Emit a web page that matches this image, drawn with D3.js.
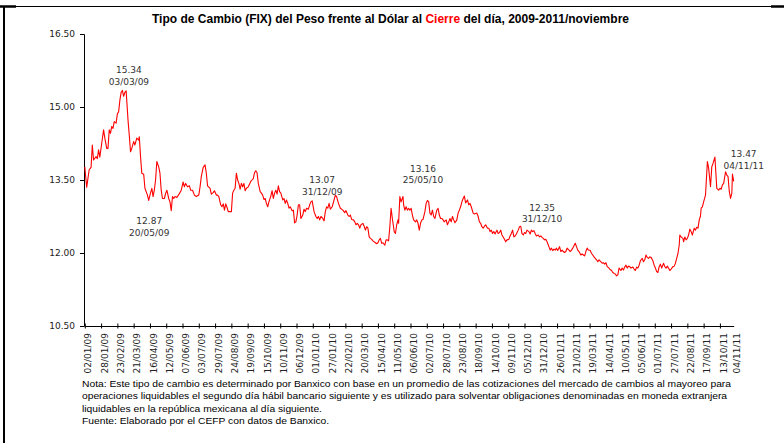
<!DOCTYPE html>
<html>
<head>
<meta charset="utf-8">
<script src="https://cdn.jsdelivr.net/npm/d3@7"></script>
<style>
  body { margin: 0; background: #fff; }
  svg { display: block; }
</style>
</head>
<body>
<div id="chart"></div>
<script>
// fechas (dias del FIX) y tipo de cambio
var fechas = ["2009-01-02","2009-01-05","2009-01-09","2009-01-12","2009-01-14","2009-01-16","2009-01-20","2009-01-22","2009-01-24","2009-01-26","2009-01-29",
"2009-02-01","2009-02-03","2009-02-06","2009-02-08","2009-02-10","2009-02-12","2009-02-14","2009-02-16","2009-02-18","2009-02-21","2009-02-23","2009-02-25","2009-02-27",
"2009-03-01","2009-03-03","2009-03-05","2009-03-07","2009-03-09","2009-03-12","2009-03-14","2009-03-16","2009-03-18","2009-03-21","2009-03-23","2009-03-26","2009-03-29","2009-03-30",
"2009-04-01","2009-04-03","2009-04-06","2009-04-08","2009-04-12","2009-04-14","2009-04-16","2009-04-19","2009-04-21","2009-04-23","2009-04-25","2009-04-27","2009-04-30",
"2009-05-02","2009-05-04","2009-05-06","2009-05-09","2009-05-11","2009-05-13","2009-05-16","2009-05-18","2009-05-20","2009-05-22","2009-05-24","2009-05-26","2009-05-29",
"2009-06-02","2009-06-05","2009-06-08","2009-06-10","2009-06-12","2009-06-15","2009-06-18","2009-06-20","2009-06-23","2009-06-26","2009-06-29",
"2009-07-03","2009-07-05","2009-07-07","2009-07-10","2009-07-13","2009-07-15","2009-07-17","2009-07-21","2009-07-23","2009-07-26","2009-07-28","2009-07-31",
"2009-08-02","2009-08-04","2009-08-07","2009-08-09","2009-08-11","2009-08-13","2009-08-15","2009-08-17","2009-08-19","2009-08-24","2009-08-26","2009-08-28","2009-08-30",
"2009-09-01","2009-09-03","2009-09-05","2009-09-07","2009-09-09","2009-09-11","2009-09-13","2009-09-15","2009-09-17","2009-09-20","2009-09-24","2009-09-26","2009-09-28","2009-09-30",
"2009-10-02","2009-10-04","2009-10-06","2009-10-09","2009-10-11","2009-10-13","2009-10-15","2009-10-17","2009-10-19","2009-10-21","2009-10-23","2009-10-26","2009-10-28","2009-10-30",
"2009-11-01","2009-11-03","2009-11-05","2009-11-07","2009-11-09","2009-11-11","2009-11-14","2009-11-16","2009-11-18","2009-11-20","2009-11-22","2009-11-24","2009-11-26","2009-11-29",
"2009-12-01","2009-12-03","2009-12-05","2009-12-07","2009-12-09","2009-12-11","2009-12-13","2009-12-16","2009-12-18","2009-12-20","2009-12-22","2009-12-25","2009-12-27","2009-12-29","2009-12-31",
"2010-01-03","2010-01-06","2010-01-08","2010-01-10","2010-01-12","2010-01-14","2010-01-17","2010-01-19","2010-01-21","2010-01-23","2010-01-25","2010-01-27","2010-01-29",
"2010-02-01","2010-02-04","2010-02-06","2010-02-08","2010-02-11","2010-02-14","2010-02-18","2010-02-21","2010-02-23","2010-02-26","2010-02-28",
"2010-03-02","2010-03-04","2010-03-07","2010-03-09","2010-03-11","2010-03-13","2010-03-15","2010-03-17","2010-03-19","2010-03-22","2010-03-24","2010-03-26","2010-03-28","2010-03-30",
"2010-04-01","2010-04-03","2010-04-05","2010-04-07","2010-04-11","2010-04-13","2010-04-15","2010-04-17","2010-04-19","2010-04-21","2010-04-23","2010-04-26","2010-04-28","2010-04-30",
"2010-05-02","2010-05-04","2010-05-06","2010-05-08","2010-05-11","2010-05-13","2010-05-15","2010-05-17","2010-05-18","2010-05-20","2010-05-22","2010-05-25","2010-05-26","2010-05-28","2010-05-30",
"2010-06-01","2010-06-03","2010-06-05","2010-06-07","2010-06-09","2010-06-11","2010-06-14","2010-06-16","2010-06-18","2010-06-20","2010-06-22","2010-06-24","2010-06-26","2010-06-29",
"2010-07-01","2010-07-03","2010-07-05","2010-07-07","2010-07-09","2010-07-11","2010-07-13","2010-07-15","2010-07-18","2010-07-20","2010-07-22","2010-07-24","2010-07-26","2010-07-28","2010-07-30",
"2010-08-02","2010-08-04","2010-08-06","2010-08-08","2010-08-10","2010-08-12","2010-08-14","2010-08-16","2010-08-19","2010-08-21","2010-08-23","2010-08-25","2010-08-27","2010-08-29","2010-08-31",
"2010-09-02","2010-09-05","2010-09-07","2010-09-09","2010-09-11","2010-09-14","2010-09-16","2010-09-20","2010-09-22","2010-09-24","2010-09-26","2010-09-28","2010-09-30",
"2010-10-02","2010-10-04","2010-10-07","2010-10-09","2010-10-11","2010-10-13","2010-10-15","2010-10-17","2010-10-19","2010-10-22","2010-10-24","2010-10-26","2010-10-28","2010-10-30",
"2010-11-01","2010-11-03","2010-11-05","2010-11-07","2010-11-10","2010-11-12","2010-11-14","2010-11-16","2010-11-18","2010-11-20","2010-11-22","2010-11-25","2010-11-27","2010-11-29",
"2010-12-01","2010-12-03","2010-12-05","2010-12-07","2010-12-09","2010-12-12","2010-12-14","2010-12-16","2010-12-18","2010-12-20","2010-12-22","2010-12-24","2010-12-27","2010-12-29","2010-12-31",
"2011-01-02","2011-01-04","2011-01-06","2011-01-08","2011-01-10","2011-01-13","2011-01-15","2011-01-17","2011-01-19","2011-01-21","2011-01-23","2011-01-25","2011-01-27","2011-01-30",
"2011-02-01","2011-02-03","2011-02-05","2011-02-07","2011-02-09","2011-02-11","2011-02-14","2011-02-16","2011-02-18","2011-02-20","2011-02-22","2011-02-24","2011-02-26","2011-02-28",
"2011-03-02","2011-03-05","2011-03-07","2011-03-09","2011-03-11","2011-03-13","2011-03-15","2011-03-17","2011-03-20","2011-03-22","2011-03-24","2011-03-26","2011-03-28","2011-03-30",
"2011-04-01","2011-04-03","2011-04-06","2011-04-08","2011-04-10","2011-04-12","2011-04-14","2011-04-16","2011-04-19","2011-04-20","2011-04-23","2011-04-25","2011-04-27","2011-04-29",
"2011-05-01","2011-05-03","2011-05-05","2011-05-08","2011-05-10","2011-05-12","2011-05-14","2011-05-16","2011-05-18","2011-05-20","2011-05-22","2011-05-24","2011-05-27","2011-05-29","2011-05-31",
"2011-06-02","2011-06-04","2011-06-06","2011-06-08","2011-06-11","2011-06-13","2011-06-15","2011-06-17","2011-06-19","2011-06-21","2011-06-23","2011-06-25","2011-06-28","2011-06-30",
"2011-07-02","2011-07-04","2011-07-06","2011-07-08","2011-07-10","2011-07-12","2011-07-15","2011-07-17","2011-07-19","2011-07-21","2011-07-23","2011-07-25","2011-07-27","2011-07-30",
"2011-08-01","2011-08-03","2011-08-05","2011-08-07","2011-08-09","2011-08-10","2011-08-12","2011-08-15","2011-08-16","2011-08-18","2011-08-20","2011-08-22","2011-08-24","2011-08-26","2011-08-28","2011-08-30",
"2011-09-02","2011-09-04","2011-09-06","2011-09-08","2011-09-10","2011-09-12","2011-09-13","2011-09-15","2011-09-17","2011-09-20","2011-09-23","2011-09-25","2011-09-28","2011-09-30",
"2011-10-02","2011-10-05","2011-10-08","2011-10-11","2011-10-13","2011-10-15","2011-10-17","2011-10-19","2011-10-22","2011-10-24","2011-10-26","2011-10-28","2011-10-30",
"2011-11-01","2011-11-02","2011-11-04"];

var fix = [13.77,13.35,13.71,13.76,14.22,13.91,13.98,13.94,14.12,13.97,14.25,
14.53,14.36,14.15,14.15,14.53,14.46,14.60,14.56,14.70,14.67,14.86,14.90,15.14,
15.30,15.34,15.22,15.30,15.33,14.73,14.42,14.08,14.15,14.29,14.22,14.36,14.32,14.39,
13.98,13.64,13.62,13.33,13.19,13.08,13.19,13.33,13.16,13.29,13.50,13.88,13.77,
13.64,13.29,13.12,13.12,13.22,13.29,13.12,13.05,12.87,13.16,13.12,13.16,13.14,
13.22,13.29,13.46,13.36,13.43,13.36,13.38,13.29,13.29,13.19,13.16,
13.19,13.36,13.57,13.76,13.81,13.64,13.38,13.33,13.21,13.24,13.28,13.19,
13.19,13.16,12.99,12.95,13.01,12.88,13.01,12.94,12.85,12.85,13.23,13.29,13.33,
13.64,13.50,13.43,13.31,13.43,13.36,13.43,13.28,13.33,13.36,13.47,13.50,13.53,13.65,
13.69,13.65,13.43,13.26,13.23,13.19,13.10,13.12,13.02,12.95,13.05,13.17,13.28,13.12,
13.23,13.29,13.21,13.38,13.26,13.23,13.09,13.12,13.02,13.09,13.02,12.92,12.95,12.87,
12.88,12.62,12.64,12.78,12.99,12.99,12.71,12.78,12.90,12.85,12.92,12.90,12.99,13.05,13.07,
12.85,12.75,12.71,12.75,12.68,12.75,12.71,12.66,12.85,12.95,12.92,13.02,12.90,
12.95,13.09,13.19,13.16,13.02,12.92,12.88,12.83,12.87,12.78,12.75,
12.78,12.69,12.68,12.64,12.58,12.61,12.58,12.51,12.58,12.61,12.55,12.47,12.54,12.51,
12.33,12.30,12.28,12.25,12.21,12.19,12.21,12.27,12.30,12.20,12.21,12.16,12.27,12.27,
12.25,12.54,12.92,12.71,12.44,12.40,12.58,12.68,12.61,13.16,13.05,13.16,12.99,12.88,12.95,
12.88,12.92,12.88,12.92,12.78,12.68,12.64,12.68,12.61,12.47,12.61,12.68,12.69,12.85,
13.02,13.08,13.05,12.82,12.78,12.88,12.75,12.71,12.88,12.92,12.78,12.71,12.71,12.68,12.64,
12.68,12.58,12.64,12.71,12.64,12.75,12.68,12.62,12.68,12.82,12.88,12.95,13.05,13.12,13.17,
13.03,13.09,12.99,13.02,12.95,12.82,12.80,12.82,12.75,12.64,12.61,12.54,12.51,
12.55,12.58,12.51,12.51,12.44,12.47,12.40,12.44,12.39,12.47,12.40,12.42,12.47,12.37,
12.33,12.28,12.23,12.27,12.28,12.35,12.40,12.47,12.33,12.35,12.39,12.47,12.54,12.55,
12.40,12.37,12.42,12.40,12.47,12.44,12.39,12.47,12.44,12.46,12.40,12.35,12.37,12.33,12.35,
12.32,12.30,12.27,12.28,12.23,12.13,12.06,12.10,12.05,12.08,12.06,12.10,12.05,12.13,
12.03,12.06,12.03,12.01,12.03,12.10,12.06,12.03,12.06,12.10,12.15,12.20,12.13,12.06,
12.03,11.96,11.98,11.96,11.94,12.03,12.10,12.06,12.05,11.99,11.96,11.92,11.89,11.86,
11.82,11.86,11.82,11.79,11.80,11.77,11.80,11.72,11.69,11.67,11.64,11.60,11.58,11.57,
11.53,11.55,11.69,11.64,11.69,11.65,11.71,11.75,11.69,11.73,11.72,11.69,11.71,11.67,11.64,
11.71,11.69,11.75,11.84,11.89,11.82,11.86,11.96,11.91,11.89,11.92,11.91,11.84,11.75,
11.69,11.62,11.60,11.72,11.77,11.69,11.79,11.72,11.69,11.73,11.69,11.64,11.67,11.72,
11.73,11.79,11.89,11.99,12.16,12.37,12.33,12.30,12.23,12.33,12.27,12.30,12.37,12.49,12.44,12.37,
12.51,12.47,12.53,12.51,12.68,12.76,12.92,12.95,13.05,13.19,13.88,13.74,13.36,13.77,
13.84,13.97,13.33,13.29,13.33,13.31,13.40,13.43,13.67,13.60,13.57,13.26,13.12,
13.23,13.62,13.47];

// etiquetas del eje horizontal (cada 26 dias, como en el original)
var etiquetasX = ["02/01/09","28/01/09","23/02/09","21/03/09","16/04/09","12/05/09","07/06/09","03/07/09","29/07/09","24/08/09",
"19/09/09","15/10/09","10/11/09","06/12/09","01/01/10","27/01/10","22/02/10","20/03/10","15/04/10","11/05/10",
"06/06/10","02/07/10","28/07/10","23/08/10","18/09/10","14/10/10","09/11/10","05/12/10","31/12/10","26/01/11",
"21/02/11","19/03/11","14/04/11","10/05/11","05/06/11","01/07/11","27/07/11","22/08/11","17/09/11","13/10/11"];
var ultimaEtiqueta = "04/11/11";
var ticksY = [10.5, 12, 13.5, 15, 16.5];

// puntos anotados: fecha, valor
var notasFecha = ["2009-03-03","2009-05-20","2009-12-31","2010-05-25","2010-12-31","2011-11-04"];
var notasValor = [15.34, 12.87, 13.07, 13.16, 12.35, 13.47];

var titulo = ["Tipo de Cambio (FIX) del Peso frente al Dólar al ", "Cierre", " del día, 2009-2011/noviembre"];
var notaPie = [
  "Nota: Este tipo de cambio es determinado por Banxico con base en un promedio de las cotizaciones del mercado de cambios al mayoreo para",
  "operaciones liquidables el segundo día hábil bancario siguiente y es utilizado  para solventar obligaciones denominadas en moneda extranjera",
  "liquidables en la república mexicana al día siguiente.",
  "Fuente: Elaborado por el CEFP con datos de Banxico."
];

var W = 784, H = 443;
var parseISO = d3.utcParse("%Y-%m-%d");
var parseDMY = d3.utcParse("%d/%m/%y");
var fmtDMY = d3.utcFormat("%d/%m/%y");

var data = fechas.map(function(f, i) { return { fecha: parseISO(f), valor: fix[i] }; });

var svg = d3.select("#chart")
    .append("svg")
    .attr("width", W)
    .attr("height", H);

// marco
svg.append("line").attr("x1", 3).attr("x2", 784).attr("y1", 6.5).attr("y2", 6.5)
    .attr("stroke", "#000").attr("stroke-width", 1);
svg.append("line").attr("x1", 0).attr("x2", 16).attr("y1", 6.5).attr("y2", 6.5)
    .attr("stroke", "#000").attr("stroke-width", 2.5);
svg.append("line").attr("x1", 771).attr("x2", 784).attr("y1", 6.5).attr("y2", 6.5)
    .attr("stroke", "#000").attr("stroke-width", 2.5);
svg.append("line").attr("x1", 4).attr("x2", 4).attr("y1", 6).attr("y2", H)
    .attr("stroke", "#000").attr("stroke-width", 2);

var x = d3.scaleUtc()
    .domain([parseISO("2009-01-02"), parseISO("2011-11-04")])
    .range([84.8, 733.7]);

var y = d3.scaleLinear()
    .domain([10.5, 16.5])
    .range([326, 34]);

// titulo
var t = svg.append("text")
    .attr("x", 152)
    .attr("y", 23)
    .attr("font-family", "Liberation Sans, Arial, sans-serif")
    .attr("font-weight", "bold")
    .attr("font-size", 12)
    .attr("fill", "#000")
    .attr("textLength", 477)
    .attr("lengthAdjust", "spacingAndGlyphs");
t.selectAll("tspan")
    .data(titulo)
    .enter()
    .append("tspan")
    .attr("fill", function(d, i) { return i == 1 ? "#ff0000" : "#000"; })
    .text(function(d) { return d; });

// eje y
var ejeY = svg.append("g")
    .attr("transform", "translate(84,0)")
    .call(d3.axisLeft(y).tickValues(ticksY).tickFormat(d3.format(".2f")).tickSize(4).tickPadding(5));
ejeY.select(".domain").attr("stroke", "#000");
ejeY.selectAll(".tick line").attr("stroke", "#000");
ejeY.selectAll("text")
    .attr("font-family", "DejaVu Sans, Verdana, sans-serif")
    .attr("font-size", 9)
    .attr("fill", "#222");

// eje x
var ticksX = etiquetasX.map(function(s) { return parseDMY(s); });
var ejeX = svg.append("g")
    .attr("transform", "translate(0,326)")
    .call(d3.axisBottom(x).tickValues(ticksX).tickSize(0).tickFormat(""));
ejeX.select(".domain").attr("stroke", "#000");
ejeX.selectAll(".tick line")
    .attr("y1", -2.5)
    .attr("y2", 2.5)
    .attr("stroke", "#000");

var etiquetas = ticksX.concat([parseDMY(ultimaEtiqueta)]);
svg.append("g")
    .selectAll("text")
    .data(etiquetas)
    .enter()
    .append("text")
    .attr("transform", function(d) { return "translate(" + (x(d) + 3.5) + ",333) rotate(-90)"; })
    .attr("text-anchor", "end")
    .attr("dy", "0.35em")
    .attr("font-family", "DejaVu Sans, Verdana, sans-serif")
    .attr("font-size", 9)
    .attr("fill", "#222")
    .text(function(d) { return fmtDMY(d); });

// serie
var linea = d3.line()
    .x(function(d) { return x(d.fecha); })
    .y(function(d) { return y(d.valor); });

svg.append("path")
    .datum(data)
    .attr("d", linea)
    .attr("fill", "none")
    .attr("stroke", "#ff0000")
    .attr("stroke-width", 1.1)
    .attr("stroke-linejoin", "round");

// anotaciones (desplazamiento de la etiqueta respecto al punto)
var despl = [[6.5, -17], [-22, 13.6], [10, -17.6], [20, -25], [1.3, -25.4], [10, -24]];
var notas = svg.append("g")
    .selectAll("g")
    .data(notasFecha)
    .enter()
    .append("g")
    .attr("transform", function(d, i) {
        var f = parseISO(d);
        return "translate(" + (x(f) + despl[i][0]) + "," + (y(notasValor[i]) + despl[i][1]) + ")";
    });
notas.append("text")
    .attr("text-anchor", "middle")
    .attr("font-family", "DejaVu Sans, Verdana, sans-serif")
    .attr("font-size", 9)
    .attr("fill", "#333")
    .text(function(d, i) { return d3.format(".2f")(notasValor[i]); });
notas.append("text")
    .attr("text-anchor", "middle")
    .attr("y", 11.8)
    .attr("font-family", "DejaVu Sans, Verdana, sans-serif")
    .attr("font-size", 9)
    .attr("fill", "#333")
    .text(function(d) { return fmtDMY(parseISO(d)); });

// nota al pie: las dos primeras lineas van justificadas, las otras con la misma compresion
var pie = svg.append("g")
    .selectAll("text")
    .data(notaPie)
    .enter()
    .append("text")
    .attr("x", 82)
    .attr("y", function(d, i) { return 387 + i * 12.4; })
    .attr("font-family", "Liberation Sans, Arial, sans-serif")
    .attr("font-size", 9.5)
    .attr("fill", "#000")
    .text(function(d) { return d; });
var naturales = [];
pie.each(function() { naturales.push(this.getComputedTextLength()); });
var compresion = 649 / naturales[0];
var anchos = [649, 645, naturales[2] * compresion, naturales[3] * compresion];
pie.attr("textLength", function(d, i) { return anchos[i]; })
    .attr("lengthAdjust", "spacingAndGlyphs");
</script>
</body>
</html>
